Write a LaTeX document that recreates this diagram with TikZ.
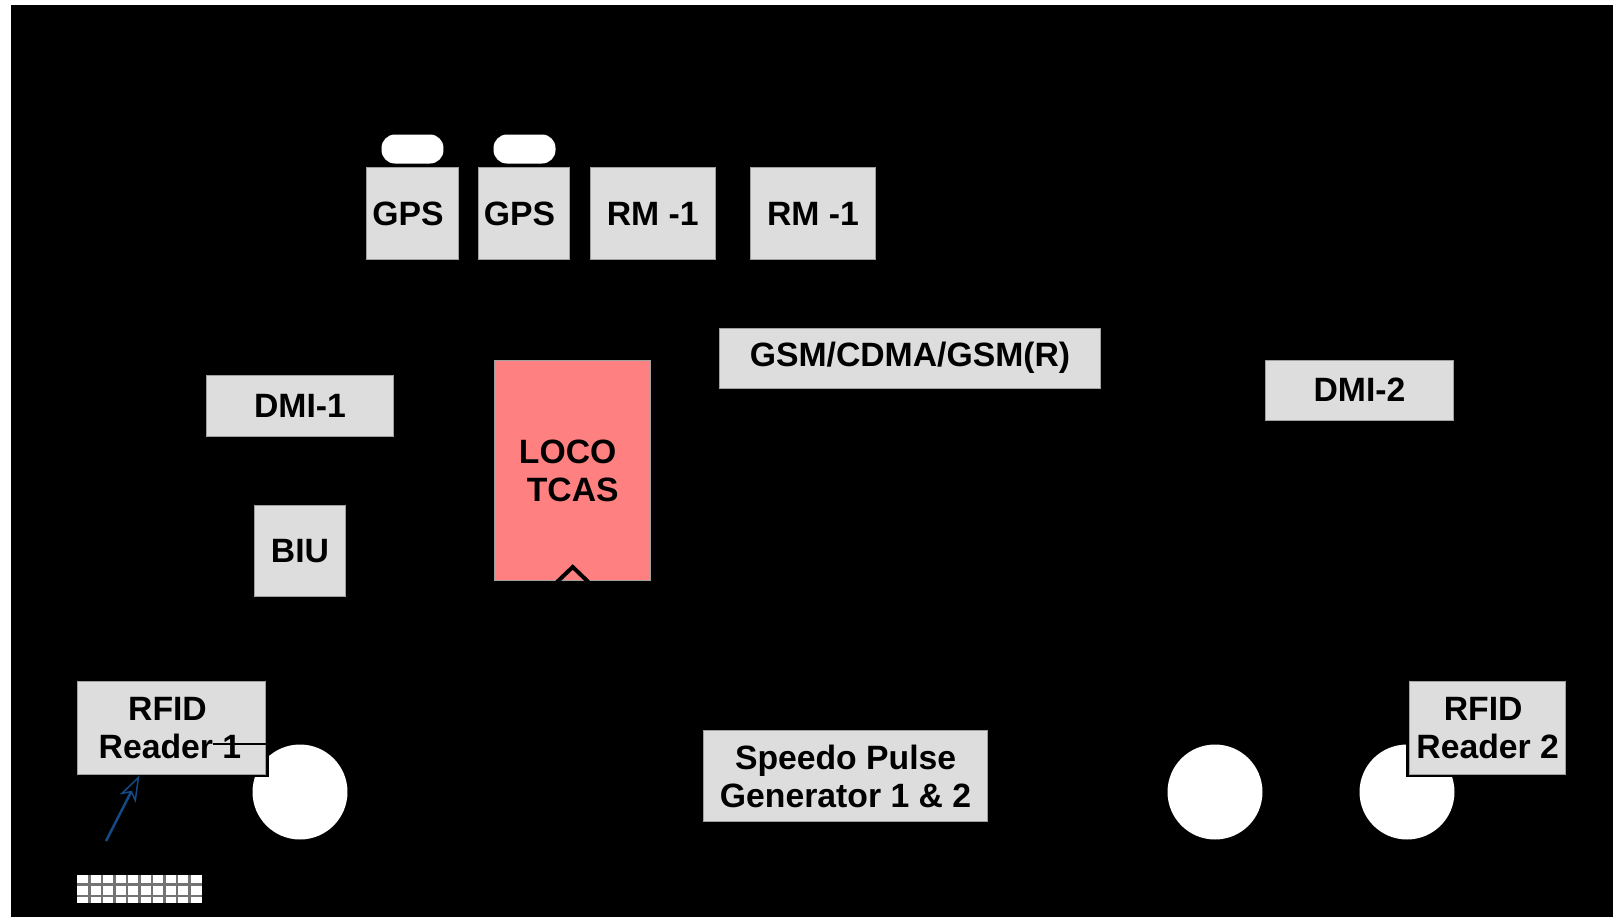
\documentclass[tikz,border=0pt]{standalone}
\usepackage{fontspec}
\setmainfont{Liberation Sans}
\usetikzlibrary{arrows.meta}
\definecolor{boxgray}{HTML}{DDDDDD}
\definecolor{boxedge}{HTML}{A0A0A0}
\definecolor{locopink}{HTML}{FF8080}
\definecolor{tagblue}{HTML}{134A86}
\tikzset{
  unitbox/.style={rectangle,draw=boxedge,line width=0.02cm,fill=boxgray,inner sep=0pt,
    align=center,font=\fontsize{19.2}{21.6}\selectfont\bfseries},
  readerbox/.style={unitbox,preaction={draw=black,line width=0.12cm}},
  wheel/.style={circle,fill=white,inner sep=0pt,minimum size=1.9cm},
  antenna/.style={rectangle,rounded corners=0.27cm,fill=white,inner sep=0pt,
    minimum width=1.24cm,minimum height=0.58cm},
  gridline/.style={black!55,line width=0.05cm}
}
\begin{document}
\begin{tikzpicture}[x=0.02cm,y=-0.02cm]
  \useasboundingbox (0,0) rectangle (1613,917);
  % page
  \fill[white] (0,0) rectangle (1613,917);
  \fill[black] (11,5) rectangle (1613,917);
  % antennas
  \node[antenna] (ant1) at (412.5,149) {};
  \node[antenna] (ant2) at (524.5,149) {};
  % top row
  \node[unitbox,minimum width=1.86cm,minimum height=1.84cm] (gps1) at (412.5,213.6) {\mbox{GPS\hspace{0.18cm}}};
  \node[unitbox,minimum width=1.83cm,minimum height=1.84cm] (gps2) at (524,213.6) {\mbox{GPS\hspace{0.18cm}}};
  \node[unitbox,minimum width=2.49cm,minimum height=1.84cm] (rm1) at (652.8,213.6) {RM -1};
  \node[unitbox,minimum width=2.49cm,minimum height=1.84cm] (rm2) at (813,213.6) {RM -1};
  % middle
  \node[unitbox,minimum width=7.63cm,minimum height=1.2cm] (gsm) at (910,358) {GSM/CDMA/GSM(R)};
  \node[unitbox,minimum width=3.76cm,minimum height=1.22cm] (dmi1) at (300,406) {DMI-1};
  \node[unitbox,minimum width=3.76cm,minimum height=1.2cm] (dmi2) at (1359.5,390) {DMI-2};
  \node[unitbox,minimum width=1.83cm,minimum height=1.83cm] (biu) at (300,551) {BIU};
  \node[unitbox,fill=locopink,minimum width=3.13cm,minimum height=4.42cm] (loco) at (572.7,470.5) {\mbox{LOCO\hspace{0.2cm}}\\TCAS};
  \coordinate (notchL) at (557,582);
  \coordinate (notchT) at (572.7,567);
  \coordinate (notchR) at (588.4,582);
  \draw[black,line width=0.08cm] (notchL)--(notchT)--(notchR);
  % wheels
  \node[wheel] (wheel1) at (300,792) {};
  \node[wheel] (wheel2) at (1215,792) {};
  \node[wheel] (wheel3) at (1407,792) {};
  % bottom row
  \node[readerbox,minimum width=3.77cm,minimum height=1.85cm] (rfid1) at (171.5,728) {\mbox{RFID\hspace{0.16cm}}\\\mbox{Reader 1\hspace{0.06cm}}};
  \node[readerbox,minimum width=3.13cm,minimum height=1.85cm] (rfid2) at (1487.7,728) {\mbox{RFID\hspace{0.18cm}}\\Reader 2};
  \node[unitbox,minimum width=5.68cm,minimum height=1.83cm] (speedo) at (845.6,776) {Speedo Pulse\\Generator 1 \& 2};
  % line over the reader text
  \coordinate (tick1) at (213,744);
  \draw[black,line width=0.03cm] (tick1)--(tick1-|rfid1.east);
  % tag and arrow
  \node[rectangle,fill=white,inner sep=0pt,minimum width=2.5cm,minimum height=0.56cm] (tag) at (139.5,889) {};
  \foreach \i in {1,...,9} {
    \draw[gridline] (77+12.5*\i,875) -- (77+12.5*\i,903);
  }
  \draw[gridline] (tag.west|-0,884.5) -- (tag.east|-0,884.5);
  \draw[gridline] (tag.west|-0,896) -- (tag.east|-0,896);
  \coordinate (sig1) at (106,841);
  \coordinate (sig2) at (139.5,775.5);
  \draw[tagblue,line width=0.05cm,-{Stealth[open,length=0.52cm,width=0.36cm,inset=0.14cm,line width=0.03cm]}] (sig1)--(sig2);
\end{tikzpicture}
\end{document}
